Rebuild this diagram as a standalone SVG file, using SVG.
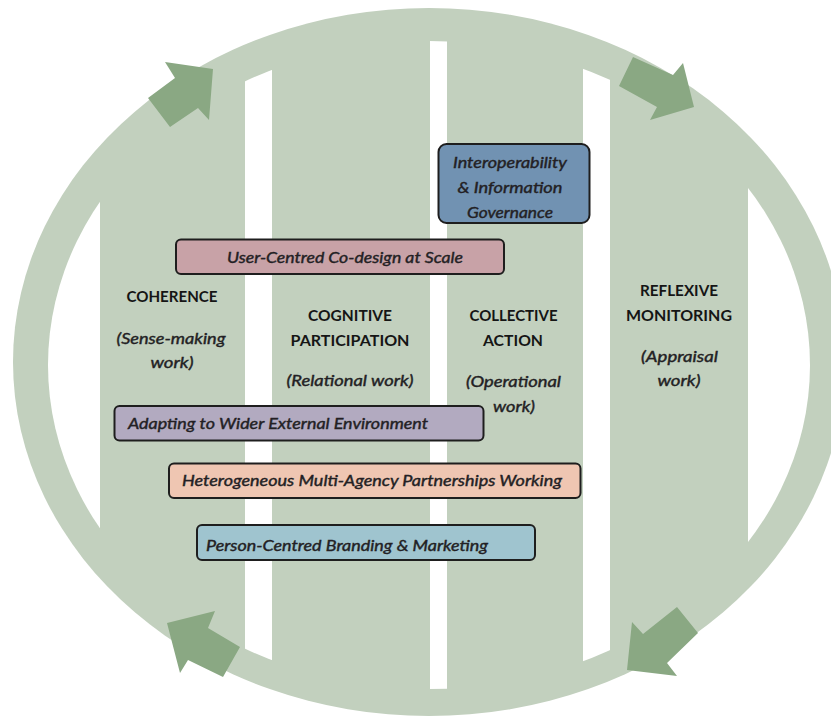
<svg xmlns="http://www.w3.org/2000/svg" width="831" height="721" viewBox="0 0 831 721">
<defs>
<clipPath id="innerClip"><ellipse cx="429" cy="365" rx="381" ry="324"/></clipPath>
<style>
.box{stroke:#1e1e1e;stroke-width:2}
.bt{font-family:Lato,"Open Sans","DejaVu Sans",sans-serif;font-style:italic;font-size:15.5px;fill:#231f24;stroke:#231f24;stroke-width:0.4}
.hd{font-family:Lato,"Open Sans","DejaVu Sans",sans-serif;font-weight:bold;font-size:15px;fill:#151515;text-anchor:middle}
.sub{font-family:Lato,"Open Sans","DejaVu Sans",sans-serif;font-style:italic;font-size:15.5px;fill:#231f24;stroke:#231f24;stroke-width:0.4;text-anchor:middle}
.mid{text-anchor:middle}
.arrow{fill:#8aa883}
</style>
</defs>
<rect width="831" height="721" fill="#ffffff"/>
<g id="background">
<ellipse cx="429" cy="362" rx="416" ry="354" fill="#c2d0be"/>
<g clip-path="url(#innerClip)" fill="#ffffff">
<rect x="0" y="0" width="100" height="721"/>
<rect x="245" y="0" width="27" height="721"/>
<rect x="430" y="0" width="17" height="721"/>
<rect x="583" y="0" width="27" height="721"/>
<rect x="748" y="0" width="83" height="721"/>
</g>
</g>
<g id="connectors">
<polygon class="arrow" points="148,98 175,78 165,62 213,69 209,120 198,108 170,127"/>
<polygon class="arrow" points="633,57 673,75 683,63 694,107 650,120 657,107 619,86"/>
<polygon class="arrow" points="677,607 643,634 632,622 627,670 677,676 667,663 698,633"/>
<polygon class="arrow" points="240,647 208,628 215,611 167,623 180,673 188,660 223,677"/>
</g>
<g id="coherence">
<text class="hd" x="172" y="301.5" textLength="91" lengthAdjust="spacingAndGlyphs">COHERENCE</text>
<text class="sub" x="171" y="343.5" textLength="109" lengthAdjust="spacingAndGlyphs">(Sense-making</text>
<text class="sub" x="172" y="367.5" textLength="43" lengthAdjust="spacingAndGlyphs">work)</text>
</g>
<g id="cognitive-participation">
<text class="hd" x="350" y="320.5" textLength="84" lengthAdjust="spacingAndGlyphs">COGNITIVE</text>
<text class="hd" x="350" y="346" textLength="119" lengthAdjust="spacingAndGlyphs">PARTICIPATION</text>
<text class="sub" x="350" y="385.5" textLength="127" lengthAdjust="spacingAndGlyphs">(Relational work)</text>
</g>
<g id="collective-action">
<text class="hd" x="513.5" y="320.5" textLength="88" lengthAdjust="spacingAndGlyphs">COLLECTIVE</text>
<text class="hd" x="513" y="346" textLength="60" lengthAdjust="spacingAndGlyphs">ACTION</text>
<text class="sub" x="513.5" y="387" textLength="95" lengthAdjust="spacingAndGlyphs">(Operational</text>
<text class="sub" x="514" y="411.5" textLength="42" lengthAdjust="spacingAndGlyphs">work)</text>
</g>
<g id="reflexive-monitoring">
<text class="hd" x="679" y="295.5" textLength="78" lengthAdjust="spacingAndGlyphs">REFLEXIVE</text>
<text class="hd" x="679" y="321" textLength="106" lengthAdjust="spacingAndGlyphs">MONITORING</text>
<text class="sub" x="679.5" y="361.5" textLength="77" lengthAdjust="spacingAndGlyphs">(Appraisal</text>
<text class="sub" x="679" y="386" textLength="43" lengthAdjust="spacingAndGlyphs">work)</text>
</g>
<g id="interoperability">
<rect class="box" x="438.5" y="144" width="151" height="79" rx="8" fill="#7192b2"/>
<text class="bt mid" x="510" y="168" textLength="114" lengthAdjust="spacingAndGlyphs">Interoperability</text>
<text class="bt mid" x="510" y="193" textLength="105" lengthAdjust="spacingAndGlyphs">&amp; Information</text>
<text class="bt mid" x="510" y="218" textLength="86" lengthAdjust="spacingAndGlyphs">Governance</text>
</g>
<g id="user-centred-codesign">
<rect class="box" x="176" y="239.5" width="328" height="34.5" rx="5" fill="#c8a2a7"/>
<text class="bt mid" x="345" y="262.5" textLength="236" lengthAdjust="spacingAndGlyphs">User-Centred Co-design at Scale</text>
</g>
<g id="adapting-environment">
<rect class="box" x="114.5" y="406" width="369" height="34.5" rx="5" fill="#b2aac0"/>
<text class="bt" x="128" y="429" textLength="300" lengthAdjust="spacingAndGlyphs">Adapting to Wider External Environment</text>
</g>
<g id="multi-agency-partnerships">
<rect class="box" x="169" y="463.5" width="411.5" height="34.5" rx="5" fill="#efc6b2"/>
<text class="bt" x="182" y="486" textLength="380" lengthAdjust="spacingAndGlyphs">Heterogeneous Multi-Agency Partnerships Working</text>
</g>
<g id="branding-marketing">
<rect class="box" x="197" y="525" width="338" height="35" rx="5" fill="#9fc4cf"/>
<text class="bt" x="206" y="551" textLength="282" lengthAdjust="spacingAndGlyphs">Person-Centred Branding &amp; Marketing</text>
</g>
</svg>
